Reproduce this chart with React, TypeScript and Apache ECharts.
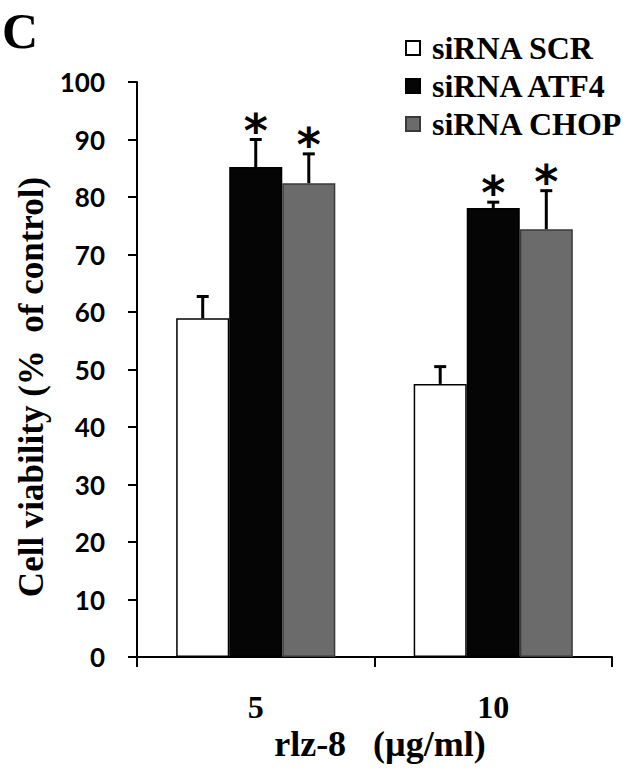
import React, { useEffect, useRef } from "react";
import * as echarts from "echarts";

const categories = ["5", "10"];
const seriesNames = ["siRNA SCR", "siRNA ATF4", "siRNA CHOP"];
const scrMean = [58.9, 47.5];
const scrErr = [3.8, 3.0];
const atf4Mean = [85.2, 78.1];
const atf4Err = [4.8, 1.0];
const chopMean = [82.4, 74.4];
const chopErr = [5.1, 6.7];
const scrSig = [false, false];
const atf4Sig = [true, true];
const chopSig = [true, true];
const yTicks = { min: 0, max: 100, interval: 10 };
const panelLabel = "C";
const yTitle = "Cell viability (%  of control)";
const xTitle = "rlz-8   (µg/ml)";

const CAT_GAP = 0.33;

export default function App() {
  const ref = useRef<HTMLDivElement>(null);
  useEffect(() => {
    if (!ref.current) return;
    const chart = echarts.init(ref.current, undefined, { renderer: "svg" });
    const means = [scrMean, atf4Mean, chopMean];
    const errs = [scrErr, atf4Err, chopErr];
    const sigs = [scrSig, atf4Sig, chopSig];
    const errData: number[][] = [];
    means.forEach((m, s) =>
      m.forEach((v, c) => {
        errData.push([c, v, v + errs[s][c], s, sigs[s][c] ? 1 : 0]);
      })
    );
    const colors = ["#ffffff", "#050505", "#6b6b6b"];
    const borders = ["#000000", "#000000", "#3a3a3a"];
    const serif = "'Liberation Serif', 'Times New Roman', serif";
    chart.setOption({
      animation: false,
      backgroundColor: "#ffffff",
      grid: { left: 137, right: 18, top: 82, bottom: 116, containLabel: false },
      legend: {
        data: seriesNames,
        orient: "vertical",
        left: 400,
        top: 27,
        itemWidth: 14,
        itemHeight: 14,
        itemGap: 6,
        icon: "rect",
        textStyle: {
          fontFamily: serif,
          fontWeight: "bold",
          fontSize: 32,
          color: "#000",
          padding: [0, 0, 0, 7],
        },
      },
      xAxis: {
        type: "category",
        data: categories,
        axisLine: { show: true, lineStyle: { color: "#000", width: 2 } },
        axisTick: { show: true, length: 10, lineStyle: { color: "#000", width: 2 } },
        axisLabel: {
          margin: 34,
          fontFamily: serif,
          fontWeight: "bold",
          fontSize: 32,
          color: "#000",
        },
      },
      yAxis: {
        type: "value",
        min: yTicks.min,
        max: yTicks.max,
        interval: yTicks.interval,
        splitLine: { show: false },
        axisLine: { show: true, lineStyle: { color: "#000", width: 2 } },
        axisTick: { show: true, length: 9, lineStyle: { color: "#000", width: 2 } },
        axisLabel: {
          margin: 32,
          fontFamily: "Lato, 'Liberation Sans', sans-serif",
          fontWeight: "bold",
          fontSize: 26,
          color: "#000",
        },
      },
      series: [
        ...seriesNames.map((name, i) => ({
          name,
          type: "bar",
          data: means[i],
          barGap: "0%",
          barCategoryGap: CAT_GAP * 100 + "%",
          itemStyle: { color: colors[i], borderColor: borders[i], borderWidth: 1.5 },
        })),
        {
          type: "custom",
          z: 10,
          data: errData,
          renderItem: (params: any, api: any) => {
            const c = api.value(0);
            const mean = api.value(1);
            const up = api.value(2);
            const s = api.value(3);
            const star = api.value(4);
            const bandW = api.size([1, 0])[0];
            const barW = (bandW * (1 - CAT_GAP)) / 3;
            const base = api.coord([c, mean]);
            const top = api.coord([c, up]);
            const x = base[0] + (s - 1) * barW;
            const children: any[] = [
              {
                type: "line",
                shape: { x1: x, y1: base[1], x2: x, y2: top[1] },
                style: { stroke: "#000", lineWidth: 3 },
              },
              {
                type: "line",
                shape: { x1: x - 6, y1: top[1], x2: x + 6, y2: top[1] },
                style: { stroke: "#000", lineWidth: 3 },
              },
            ];
            if (star) {
              children.push({
                type: "text",
                x: x,
                y: top[1] - 9,
                style: {
                  text: "*",
                  fontFamily: "'DejaVu Sans', sans-serif",
                  fontWeight: "bold",
                  fontSize: 46,
                  fill: "#000",
                  align: "center",
                  verticalAlign: "middle",
                },
              });
            }
            return { type: "group", children };
          },
        },
      ],
      graphic: [
        {
          type: "text",
          left: 2,
          top: 6,
          style: {
            text: panelLabel,
            fontFamily: serif,
            fontWeight: "bold",
            fontSize: 50,
            fill: "#000",
          },
        },
        {
          type: "text",
          x: 31,
          y: 387,
          rotation: Math.PI / 2,
          style: {
            text: yTitle,
            fontFamily: serif,
            fontWeight: "bold",
            fontSize: 35,
            fill: "#000",
            align: "center",
            verticalAlign: "middle",
          },
        },
        {
          type: "text",
          x: 380,
          y: 744,
          style: {
            text: xTitle,
            fontFamily: serif,
            fontWeight: "bold",
            fontSize: 36,
            fill: "#000",
            align: "center",
            verticalAlign: "middle",
          },
        },
      ],
    });
    return () => chart.dispose();
  }, []);
  return (
    <div
      ref={ref}
      style={{ position: "fixed", left: 0, top: 0, width: 630, height: 773 }}
    />
  );
}
